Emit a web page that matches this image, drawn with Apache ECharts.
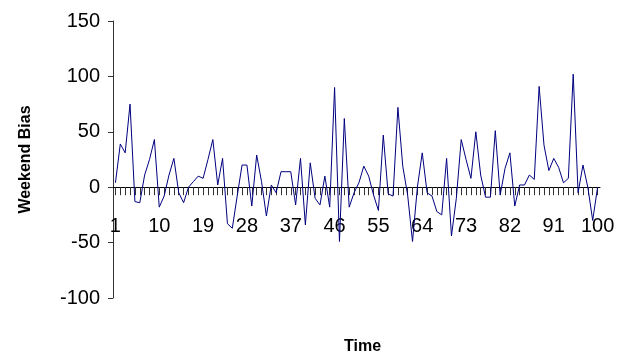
<!DOCTYPE html>
<html>
<head>
<meta charset="utf-8">
<script src="https://cdn.jsdelivr.net/npm/echarts@6/dist/echarts.min.js"></script>
<style>
  html, body { margin: 0; padding: 0; background: #fff; }
  #chart { width: 634px; height: 360px; }
</style>
</head>
<body>
<div id="chart"></div>
<script>
const timeSteps = Array.from({ length: 100 }, (_, i) => String(i + 1));

const weekendBias = [
  4, 39, 31, 75, -13, -14, 11, 25, 43, -18,
  -8, 11, 26, -5, -14, 0, 5, 10, 8, 25,
  43, 2, 26, -33, -37, -8, 20, 20, -17, 29,
  5, -26, 2, -5, 14, 14, 14, -16, 26, -34,
  22, -10, -16, 10, -18, 90, -49, 62, -18, -5,
  4, 19, 10, -7, -21, 47, -6, -8, 72, 19,
  -7, -49, 0, 31, -5, -8, -22, -25, 26, -44,
  -10, 43, 25, 8, 50, 11, -9, -9, 51, -7,
  17, 31, -17, 2, 2, 11, 7, 91, 38, 15,
  26, 18, 4, 8, 102, -5, 20, 0, -30, 0
];

const yTicks = { min: -100, max: 150, step: 50 };

const chart = echarts.init(document.getElementById("chart"));
const labelFont = "'Liberation Sans', Arial, sans-serif";

chart.setOption({
  animation: false,
  backgroundColor: "#fff",
  grid: { left: 113, right: 34, top: 21, bottom: 62, containLabel: false, outerBoundsMode: "none" },
  xAxis: {
    type: "category",
    data: timeSteps,
    boundaryGap: true,
    name: "Time",
    nameLocation: "middle",
    nameGap: 41,
    nameTextStyle: { fontFamily: labelFont, fontSize: 16, fontWeight: "bold", color: "#000", padding: [0, 0, 0, 12] },
    axisLine: { onZero: true, lineStyle: { color: "#000", width: 1 } },
    axisTick: { show: true, interval: 0, alignWithLabel: true, length: 8, lineStyle: { color: "#333" } },
    axisLabel: { interval: 8, margin: -82, fontFamily: labelFont, fontSize: 20, color: "#000" },
    splitLine: { show: false }
  },
  yAxis: {
    type: "value",
    min: yTicks.min,
    max: yTicks.max,
    interval: yTicks.step,
    name: "Weekend Bias",
    nameLocation: "middle",
    nameGap: 79,
    nameTextStyle: { fontFamily: labelFont, fontSize: 16, fontWeight: "bold", color: "#000" },
    axisLine: { show: true, lineStyle: { color: "#333", width: 1 } },
    axisTick: { show: true, length: 5, lineStyle: { color: "#333" } },
    axisLabel: { margin: 13, fontFamily: labelFont, fontSize: 20, color: "#000" },
    splitLine: { show: false }
  },
  series: [
    {
      type: "line",
      data: weekendBias,
      showSymbol: false,
      symbol: "none",
      smooth: false,
      lineStyle: { color: "#000080", width: 1 },
      itemStyle: { color: "#000080" }
    }
  ]
});
</script>
</body>
</html>
